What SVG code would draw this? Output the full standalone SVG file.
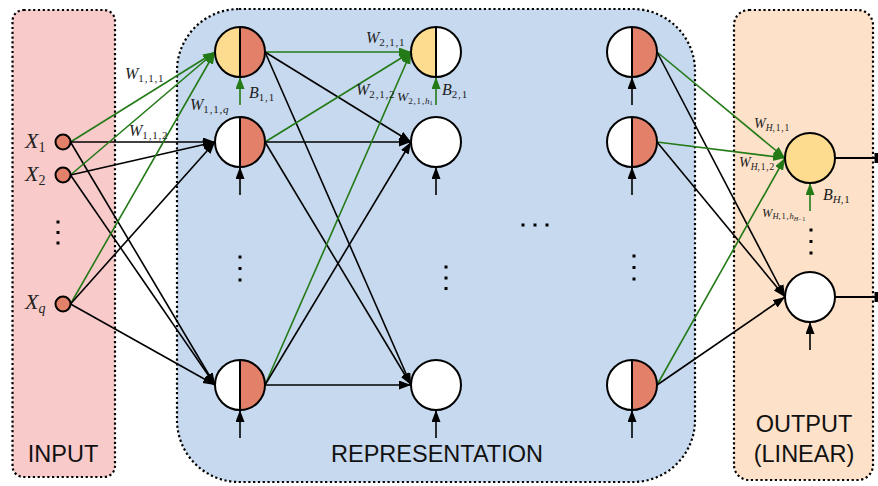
<svg xmlns="http://www.w3.org/2000/svg" width="878" height="486" viewBox="0 0 878 486">
<style>
.panel{stroke:#000;stroke-width:2.2;stroke-dasharray:2.2 2.6}
.node{stroke:#000;stroke-width:2}
.half{stroke:none}
.blk{stroke:#000;stroke-width:1.6;fill:none;marker-end:url(#ab)}
.grn{stroke:#237a17;stroke-width:1.6;fill:none;marker-end:url(#ag)}
.m{font-family:"Liberation Serif","DejaVu Serif",serif;font-style:italic;fill:#222}
.sub{font-style:normal;letter-spacing:0.8px}
.lbl{font-family:"Liberation Sans",Arial,sans-serif;font-size:23.5px;fill:#111;text-anchor:middle}
.dot{fill:#000}
</style>
<defs>
<marker id="ab" markerUnits="userSpaceOnUse" markerWidth="13" markerHeight="10" refX="12" refY="4.5" orient="auto"><path d="M0,0 L12,4.5 L0,9 z" fill="#000"/></marker>
<marker id="ag" markerUnits="userSpaceOnUse" markerWidth="13" markerHeight="10" refX="12" refY="4.5" orient="auto"><path d="M0,0 L12,4.5 L0,9 z" fill="#237a17"/></marker>
</defs>
<rect width="878" height="486" fill="#fff"/>
<g id="panels">
<rect class="panel" x="12.5" y="10" width="102.5" height="467" rx="11" fill="#f9caca"/>
<rect class="panel" x="177" y="9" width="518" height="473" rx="62" fill="#c6d9ee"/>
<rect class="panel" x="734" y="10" width="139" height="470" rx="15" fill="#fde1c8"/>
</g>
<g id="connectors">
<line class="grn" x1="70.5" y1="142" x2="215" y2="52"/>
<line class="blk" x1="70.5" y1="142" x2="215" y2="142"/>
<line class="blk" x1="70.5" y1="142" x2="215" y2="385"/>
<line class="grn" x1="70.5" y1="175" x2="215" y2="52"/>
<line class="blk" x1="70.5" y1="175" x2="215" y2="142"/>
<line class="blk" x1="70.5" y1="175" x2="215" y2="385"/>
<line class="grn" x1="70.5" y1="304" x2="215" y2="52"/>
<line class="blk" x1="70.5" y1="304" x2="215" y2="142"/>
<line class="blk" x1="70.5" y1="304" x2="215" y2="385"/>
<line class="grn" x1="265" y1="52" x2="411" y2="52"/>
<line class="blk" x1="265" y1="52" x2="411" y2="142"/>
<line class="blk" x1="265" y1="52" x2="411" y2="385"/>
<line class="grn" x1="265" y1="142" x2="411" y2="52"/>
<line class="blk" x1="265" y1="142" x2="411" y2="142"/>
<line class="blk" x1="265" y1="142" x2="411" y2="385"/>
<line class="grn" x1="265" y1="385" x2="411" y2="52"/>
<line class="blk" x1="265" y1="385" x2="411" y2="142"/>
<line class="blk" x1="265" y1="385" x2="411" y2="385"/>
<line class="grn" x1="657" y1="52" x2="785" y2="158"/>
<line class="blk" x1="657" y1="52" x2="785" y2="297"/>
<line class="grn" x1="657" y1="142" x2="785" y2="158"/>
<line class="blk" x1="657" y1="142" x2="785" y2="297"/>
<line class="grn" x1="657" y1="385" x2="785" y2="158"/>
<line class="blk" x1="657" y1="385" x2="785" y2="297"/>
<line class="grn" x1="240" y1="105" x2="240" y2="77"/>
<line class="blk" x1="240" y1="195" x2="240" y2="167"/>
<line class="blk" x1="240" y1="438" x2="240" y2="410"/>
<line class="grn" x1="436" y1="105" x2="436" y2="77"/>
<line class="blk" x1="436" y1="195" x2="436" y2="167"/>
<line class="blk" x1="436" y1="438" x2="436" y2="410"/>
<line class="blk" x1="632" y1="105" x2="632" y2="77"/>
<line class="blk" x1="632" y1="195" x2="632" y2="167"/>
<line class="blk" x1="632" y1="438" x2="632" y2="410"/>
<line class="grn" x1="810" y1="211" x2="810" y2="183"/>
<line class="blk" x1="810" y1="350" x2="810" y2="322"/>
<line x1="835" y1="158" x2="876" y2="158" stroke="#000" stroke-width="1.8"/>
<rect x="874.5" y="153" width="3.5" height="10" fill="#000"/>
<line x1="835" y1="297" x2="876" y2="297" stroke="#000" stroke-width="1.8"/>
<rect x="874.5" y="292" width="3.5" height="10" fill="#000"/>
</g>
<g id="x1"><circle class="node" cx="63" cy="142" r="7.5" fill="#e2806a"/>
<text class="m" x="25" y="148" font-size="22">X<tspan class="sub" font-size="14" dy="4">1</tspan></text></g>
<g id="x2"><circle class="node" cx="63" cy="175" r="7.5" fill="#e2806a"/>
<text class="m" x="25" y="181" font-size="22">X<tspan class="sub" font-size="14" dy="4">2</tspan></text></g>
<g id="xq"><circle class="node" cx="63" cy="304" r="7.5" fill="#e2806a"/>
<text class="m" x="25" y="309" font-size="22">X<tspan font-size="14" dy="4">q</tspan></text></g>
<g id="l1n1"><path class="half" d="M240,27 A25,25 0 0 0 240,77 z" fill="#fddc8f"/><path class="half" d="M240,27 A25,25 0 0 1 240,77 z" fill="#e2806a"/><circle class="node" cx="240" cy="52" r="25" fill="none"/><line class="node" x1="240" y1="27" x2="240" y2="77"/></g>
<g id="l1n2"><path class="half" d="M240,117 A25,25 0 0 0 240,167 z" fill="#fff"/><path class="half" d="M240,117 A25,25 0 0 1 240,167 z" fill="#e2806a"/><circle class="node" cx="240" cy="142" r="25" fill="none"/><line class="node" x1="240" y1="117" x2="240" y2="167"/></g>
<g id="l1n3"><path class="half" d="M240,360 A25,25 0 0 0 240,410 z" fill="#fff"/><path class="half" d="M240,360 A25,25 0 0 1 240,410 z" fill="#e2806a"/><circle class="node" cx="240" cy="385" r="25" fill="none"/><line class="node" x1="240" y1="360" x2="240" y2="410"/></g>
<g id="l2n1"><path class="half" d="M436,27 A25,25 0 0 0 436,77 z" fill="#fddc8f"/><path class="half" d="M436,27 A25,25 0 0 1 436,77 z" fill="#fff"/><circle class="node" cx="436" cy="52" r="25" fill="none"/><line class="node" x1="436" y1="27" x2="436" y2="77"/></g>
<g id="l2n2"><circle class="node" cx="436" cy="142" r="25" fill="#fff"/></g>
<g id="l2n3"><circle class="node" cx="436" cy="385" r="25" fill="#fff"/></g>
<g id="l3n1"><path class="half" d="M632,27 A25,25 0 0 0 632,77 z" fill="#fff"/><path class="half" d="M632,27 A25,25 0 0 1 632,77 z" fill="#e2806a"/><circle class="node" cx="632" cy="52" r="25" fill="none"/><line class="node" x1="632" y1="27" x2="632" y2="77"/></g>
<g id="l3n2"><path class="half" d="M632,117 A25,25 0 0 0 632,167 z" fill="#fff"/><path class="half" d="M632,117 A25,25 0 0 1 632,167 z" fill="#e2806a"/><circle class="node" cx="632" cy="142" r="25" fill="none"/><line class="node" x1="632" y1="117" x2="632" y2="167"/></g>
<g id="l3n3"><path class="half" d="M632,360 A25,25 0 0 0 632,410 z" fill="#fff"/><path class="half" d="M632,360 A25,25 0 0 1 632,410 z" fill="#e2806a"/><circle class="node" cx="632" cy="385" r="25" fill="none"/><line class="node" x1="632" y1="360" x2="632" y2="410"/></g>
<g id="out1"><circle class="node" cx="810" cy="158" r="25" fill="#fddc8f"/></g>
<g id="out2"><circle class="node" cx="810" cy="297" r="25" fill="#fff"/></g>
<g id="dots">
<rect class="dot" x="56.5" y="220.5" width="3" height="3"/><rect class="dot" x="56.5" y="231" width="3" height="3"/><rect class="dot" x="56.5" y="241.5" width="3" height="3"/>
<rect class="dot" x="238.5" y="255.5" width="3" height="3"/><rect class="dot" x="238.5" y="267" width="3" height="3"/><rect class="dot" x="238.5" y="278.5" width="3" height="3"/>
<rect class="dot" x="444.5" y="265.5" width="3" height="3"/><rect class="dot" x="444.5" y="276.5" width="3" height="3"/><rect class="dot" x="444.5" y="287" width="3" height="3"/>
<rect class="dot" x="632.5" y="254.5" width="3" height="3"/><rect class="dot" x="632.5" y="266" width="3" height="3"/><rect class="dot" x="632.5" y="277.5" width="3" height="3"/>
<rect class="dot" x="521.5" y="223.5" width="3" height="3"/><rect class="dot" x="533.5" y="223.5" width="3" height="3"/><rect class="dot" x="545.5" y="223.5" width="3" height="3"/>
<rect class="dot" x="809.5" y="228.5" width="3" height="3"/><rect class="dot" x="809.5" y="240" width="3" height="3"/><rect class="dot" x="809.5" y="251.5" width="3" height="3"/>
</g>
<g id="labels">
<text class="m" x="125" y="79" font-size="16">W<tspan class="sub" font-size="11" dy="3">1,1,1</tspan></text>
<text class="m" x="129" y="136" font-size="16">W<tspan class="sub" font-size="11" dy="3">1,1,2</tspan></text>
<text class="m" x="190" y="110" font-size="16">W<tspan class="sub" font-size="11" dy="3">1,1,</tspan><tspan font-size="11">q</tspan></text>
<text class="m" x="249" y="98" font-size="16">B<tspan class="sub" font-size="11" dy="3">1,1</tspan></text>
<text class="m" x="366" y="43" font-size="16">W<tspan class="sub" font-size="11" dy="3">2,1,1</tspan></text>
<text class="m" x="356" y="95" font-size="16">W<tspan class="sub" font-size="11" dy="3">2,1,2</tspan></text>
<text class="m" x="397" y="101" font-size="13.5">W<tspan class="sub" font-size="9" dy="2.5">2,1,</tspan><tspan font-size="9">h</tspan><tspan class="sub" font-size="6.5" dy="1.5">1</tspan></text>
<text class="m" x="442" y="95" font-size="16">B<tspan class="sub" font-size="11" dy="3">2,1</tspan></text>
<text class="m" x="754" y="128" font-size="14">W<tspan font-size="9.5" dy="2.5">H</tspan><tspan class="sub" font-size="9.5">,1,1</tspan></text>
<text class="m" x="739" y="167" font-size="14">W<tspan font-size="9.5" dy="2.5">H</tspan><tspan class="sub" font-size="9.5">,1,2</tspan></text>
<text class="m" x="762" y="217" font-size="12.5">W<tspan font-size="8.5" dy="2">H</tspan><tspan class="sub" font-size="8.5">,1,</tspan><tspan font-size="8.5">h</tspan><tspan font-size="6" dy="1.5">H</tspan><tspan class="sub" font-size="6">−1</tspan></text>
<text class="m" x="823" y="200" font-size="16">B<tspan font-size="11" dy="3">H</tspan><tspan class="sub" font-size="11">,1</tspan></text>
<text class="lbl" x="63" y="462">INPUT</text>
<text class="lbl" x="437" y="462">REPRESENTATION</text>
<text class="lbl" x="804" y="432">OUTPUT</text>
<text class="lbl" x="804" y="462">(LINEAR)</text>
</g>
</svg>
